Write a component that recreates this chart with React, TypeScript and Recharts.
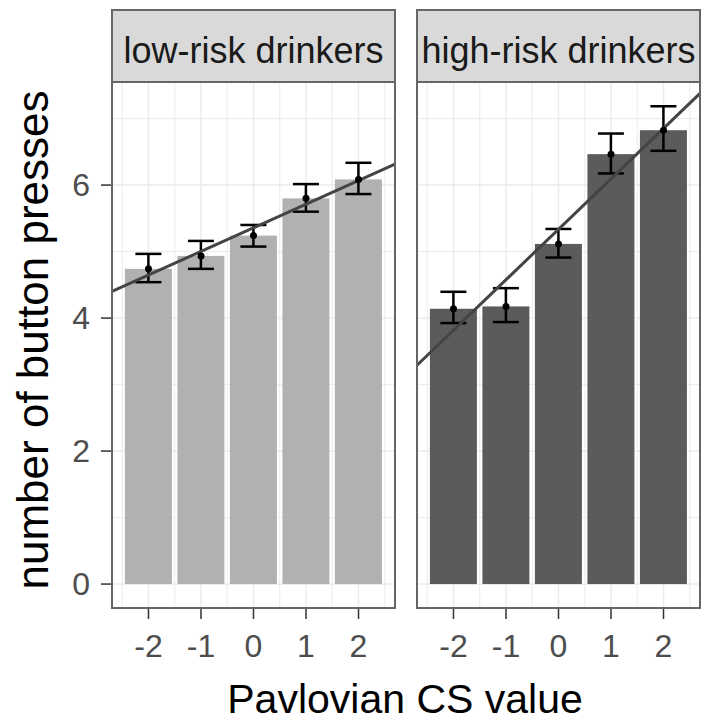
import React from 'react';
import {
  ComposedChart,
  Bar,
  ErrorBar,
  Scatter,
  Line,
  XAxis,
  YAxis,
  CartesianGrid,
} from 'recharts';

// Pavlovian CS value categories
const csValues = [-2, -1, 0, 1, 2];

// low-risk drinkers: mean and error bar bounds
const lowRiskMeans = [4.74, 4.935, 5.24, 5.8, 6.085];
const lowRiskLower = [4.54, 4.74, 5.075, 5.6, 5.865];
const lowRiskUpper = [4.965, 5.16, 5.4, 6.015, 6.335];

// high-risk drinkers
const highRiskMeans = [4.14, 4.175, 5.115, 6.465, 6.825];
const highRiskLower = [3.925, 3.94, 4.91, 6.175, 6.515];
const highRiskUpper = [4.395, 4.45, 5.34, 6.775, 7.185];

// fitted line, read at the panel edges
const fitX = [-2.695, 2.695];
const lowRiskFit = [4.4, 6.315];
const highRiskFit = [3.29, 7.38];

const yTicks = [0, 2, 4, 6];
const yMinor = [1, 3, 5, 7];
const xMinor = [-2.5, -1.5, -0.5, 0.5, 1.5, 2.5];

const FONT = '"Liberation Sans", Arial, Helvetica, sans-serif';
const PLOT_TOP = 82;
const PLOT_BOTTOM = 608;
const PANEL_W = 283;
const BAR_W = 47;
const X_DOMAIN: [number, number] = [-2.695, 2.695];
const Y_DOMAIN: [number, number] = [-0.36, 7.55];

interface PanelProps {
  means: number[];
  lower: number[];
  upper: number[];
  fit: number[];
  fill: string;
  showY: boolean;
}

const Panel: React.FC<PanelProps> = ({ means, lower, upper, fit, fill, showY }) => {
  const data = csValues.map((x, i) => ({
    x,
    mean: means[i],
    err: [means[i] - lower[i], upper[i] - means[i]],
  }));
  const fitData = fitX.map((x, i) => ({ x, fit: fit[i] }));
  const yWidth = showY ? 112 : 0;

  // recharts shrinks bars on a number axis, so widen them round their centre
  const renderBar = (p: any) => (
    <rect
      x={p.x + p.width / 2 - BAR_W / 2}
      y={p.y}
      width={BAR_W}
      height={p.height}
      fill={fill}
    />
  );

  return (
    <ComposedChart
      width={yWidth + PANEL_W}
      height={725}
      data={data}
      margin={{ top: PLOT_TOP, right: 0, bottom: 0, left: 0 }}
      style={{ fontFamily: FONT }}
    >
      <CartesianGrid
        stroke="#ebebeb"
        strokeWidth={1}
        horizontalValues={yMinor}
        verticalValues={xMinor}
      />
      <CartesianGrid
        stroke="#ebebeb"
        strokeWidth={1.5}
        horizontalValues={yTicks}
        verticalValues={csValues}
      />
      <XAxis
        type="number"
        dataKey="x"
        domain={X_DOMAIN}
        allowDataOverflow
        ticks={csValues}
        interval={0}
        height={725 - PLOT_BOTTOM}
        axisLine={false}
        tickSize={11}
        tickMargin={15}
        tickLine={{ stroke: '#333', strokeWidth: 1.5 }}
        tick={{ fontSize: 32, fill: '#4d4d4d', fontFamily: FONT }}
      />
      <YAxis
        type="number"
        domain={Y_DOMAIN}
        allowDataOverflow
        ticks={yTicks}
        interval={0}
        hide={!showY}
        width={yWidth}
        axisLine={false}
        tickSize={11}
        tickMargin={11}
        tickLine={{ stroke: '#333', strokeWidth: 1.5 }}
        tick={{ fontSize: 32, fill: '#4d4d4d', fontFamily: FONT }}
      />
      <Bar dataKey="mean" fill={fill} shape={renderBar} isAnimationActive={false}>
        <ErrorBar
          dataKey="err"
          width={13}
          stroke="#000"
          strokeWidth={2.5}
          direction="y"
          isAnimationActive={false}
        />
      </Bar>
      <Line
        data={fitData}
        dataKey="fit"
        type="linear"
        stroke="#444"
        strokeWidth={3}
        dot={false}
        activeDot={false}
        isAnimationActive={false}
      />
      <Scatter
        data={data}
        dataKey="mean"
        isAnimationActive={false}
        shape={(p: any) => <circle cx={p.cx} cy={p.cy} r={3.5} fill="#000" />}
      />
    </ComposedChart>
  );
};

const panels = [
  { left: 112, label: 'low-risk drinkers' },
  { left: 417, label: 'high-risk drinkers' },
];

export default function App() {
  return (
    <div
      style={{
        position: 'absolute',
        left: 0,
        top: 0,
        width: 711,
        height: 725,
        background: '#fff',
        fontFamily: FONT,
      }}
    >
      <div style={{ position: 'absolute', left: 0, top: 0 }}>
        <Panel
          means={lowRiskMeans}
          lower={lowRiskLower}
          upper={lowRiskUpper}
          fit={lowRiskFit}
          fill="#b1b1b1"
          showY
        />
      </div>
      <div style={{ position: 'absolute', left: 417, top: 0 }}>
        <Panel
          means={highRiskMeans}
          lower={highRiskLower}
          upper={highRiskUpper}
          fit={highRiskFit}
          fill="#5b5b5b"
          showY={false}
        />
      </div>
      <svg
        width={711}
        height={725}
        style={{ position: 'absolute', left: 0, top: 0, pointerEvents: 'none' }}
      >
        {panels.map((p) => (
          <g key={p.label}>
            <rect
              x={p.left}
              y={10}
              width={PANEL_W}
              height={PLOT_TOP - 10}
              fill="#d9d9d9"
              stroke="#666"
              strokeWidth={2}
            />
            <text
              x={p.left + PANEL_W / 2}
              y={63}
              textAnchor="middle"
              fontSize={36}
              fill="#1a1a1a"
              fontFamily={FONT}
            >
              {p.label}
            </text>
            <rect
              x={p.left}
              y={PLOT_TOP}
              width={PANEL_W}
              height={PLOT_BOTTOM - PLOT_TOP}
              fill="none"
              stroke="#666"
              strokeWidth={2}
            />
          </g>
        ))}
        <text
          x={405}
          y={713}
          textAnchor="middle"
          fontSize={41}
          fill="#000"
          fontFamily={FONT}
        >
          Pavlovian CS value
        </text>
        <text
          transform="translate(48, 340) rotate(-90)"
          textAnchor="middle"
          fontSize={44}
          fill="#000"
          fontFamily={FONT}
        >
          number of button presses
        </text>
      </svg>
    </div>
  );
}
